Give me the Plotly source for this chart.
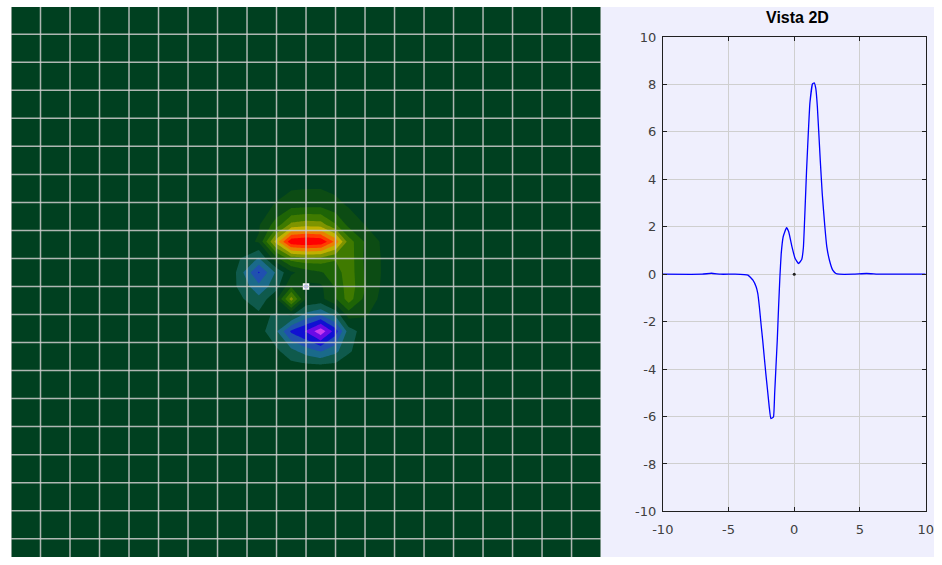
import plotly.graph_objects as go

# ---------------- field shown in the map (left panel) ----------------
grid_x = [-10, -3.0, -2.4, -1.6, -1.0, -0.5, 0.0, 0.5, 1.0, 1.45, 2.0, 2.6, 10]
grid_y = [-10, -2.9, -2.3, -1.6, -1.0, -0.45, 0.0, 0.5, 1.0, 1.6, 2.2, 2.9, 3.6, 10]
field = [
    [0, 0, 0, 0, 0, 0, 0, 0, 0, 0, 0, 0, 0],
    [0, 0, 0, 0, 0, 0, 0, 0, 0, 0, 0, 0, 0],
    [0, 0, 0, 0, -0.3, -1.2, -2.0, -2.6, -1.8, -0.6, -0.1, 0, 0],
    [0, 0, 0, 0, -1.4, -3.7, -4.6, -6.2, -4.0, -1.0, 0, 0, 0],
    [0, 0, 0, -0.3, -0.6, -0.3, -1.8, -2.4, -1.2, 1.0, 0.6, 0.1, 0],
    [0, 0, -0.1, -1.2, 0.35, 4.0, 0.4, 0.2, 1.4, 3.0, 1.2, 0.2, 0],
    [0, 0, -0.4, -2.2, -0.9, 1.4, 0.3, 0.3, 1.6, 3.1, 1.6, 0.3, 0],
    [0, 0, -0.4, -3.6, -1.3, 0.3, 1.0, 1.4, 2.0, 3.1, 1.4, 0.4, 0],
    [0, 0, -0.2, -1.6, 1.2, 3.0, 3.3, 3.2, 2.6, 3.1, 1.3, 0.4, 0],
    [0, 0, 0, 0.6, 5.0, 8.3, 8.6, 8.4, 6.2, 3.0, 1.4, 0.3, 0],
    [0, 0, 0, 0.4, 2.0, 3.8, 4.1, 4.0, 2.6, 1.2, 0.5, 0, 0],
    [0, 0, 0, 0.1, 0.6, 1.1, 1.2, 1.2, 0.8, 0.4, 0.1, 0, 0],
    [0, 0, 0, 0, 0.1, 0.3, 0.35, 0.35, 0.2, 0.1, 0, 0, 0],
    [0, 0, 0, 0, 0, 0, 0, 0, 0, 0, 0, 0, 0],
]

# ---------------- profile (right panel, "Vista 2D") ----------------
profile_x = [-10, -7.0, -6.3, -5.6, -4.5, -3.52, -3.14, -2.90, -2.77, -2.65, -2.53,
             -2.40, -2.28, -2.16, -2.03, -1.90, -1.78, -1.58, -1.49, -1.39, -1.29,
             -1.19, -1.09, -0.99, -0.84, -0.59, -0.42, -0.17, 0.07, 0.33, 0.57,
             0.70, 0.82, 0.94, 1.07, 1.19, 1.39, 1.52, 1.64, 1.76, 1.98, 2.13,
             2.33, 2.48, 2.68, 2.93, 3.17, 3.42, 4.5, 5.5, 6.5, 10]
profile_y = [0, 0, 0.04, 0, 0, -0.04, -0.25, -0.53, -0.82, -1.38, -2.08,
             -2.78, -3.49, -4.19, -4.89, -5.60, -6.09, -6.02, -5.04, -3.91, -2.78,
             -1.38, -0.11, 0.87, 1.58, 1.96, 1.79, 1.15, 0.66, 0.45, 0.62,
             1.15, 2.70, 4.39, 5.94, 7.20, 8.02, 8.07, 7.83, 7.06, 4.81, 3.40,
             2.00, 1.15, 0.59, 0.17, 0.03, 0, 0, 0.03, 0, 0]

x_ticks = [-10, -5, 0, 5, 10]
y_ticks = [-10, -8, -6, -4, -2, 0, 2, 4, 6, 8, 10]

# contour levels and one colour per band (lowest band first)
level_start, level_end, level_step = -5.5, 7.5, 1
band_colors = [
    "#c83cf0", "#6a0ae6", "#1010d2", "#2050b0", "#1a6a8a", "#0f5a4c",
    "#004020",
    "#0c4c14", "#1e6406", "#3f7a00", "#7e9400", "#c0b000", "#e88000",
    "#ff3c00", "#ff0000",
]
n = len(band_colors) - 1
colorscale = []
for k, c in enumerate(band_colors):
    lo = max(0.0, (k - 0.5) / n)
    hi = min(1.0, (k + 0.5) / n)
    colorscale.append([lo, c])
    colorscale.append([hi, c])

W, H = 942, 565
MAP_RIGHT = 602.2       # px, right edge of the map
MAP_TOP = -0.8          # px, map frame sits just above the figure
UNIT_H = 28.79          # px per map unit, vertical
map_top = 10 + MAP_TOP / UNIT_H
map_bottom = map_top - H / UNIT_H

PROF_L, PROF_R = 665.2, 933.5   # px, profile axes box
PROF_T, PROF_B = 30.8, 518.2

fig = go.Figure()

fig.add_trace(go.Contour(
    x=grid_x, y=grid_y, z=field,
    autocontour=False,
    contours=dict(start=level_start, end=level_end, size=level_step, coloring="fill"),
    colorscale=colorscale, showscale=False,
    line=dict(width=0, smoothing=0),
    hoverinfo="skip",
    xaxis="x", yaxis="y",
))

# centre marker of the map
fig.add_trace(go.Scatter(
    x=[0], y=[0], mode="markers",
    marker=dict(symbol="square", size=5, color="#9aa6ff", line=dict(color="white", width=1.5)),
    xaxis="x", yaxis="y", hoverinfo="skip", showlegend=False,
))

fig.add_trace(go.Scatter(
    x=profile_x, y=profile_y, mode="lines",
    line=dict(color="#0000ff", width=1.3, shape="spline", smoothing=0.3),
    xaxis="x2", yaxis="y2", hoverinfo="skip", showlegend=False,
))
fig.add_trace(go.Scatter(
    x=[0], y=[0], mode="markers",
    marker=dict(size=3, color="#202020"),
    xaxis="x2", yaxis="y2", hoverinfo="skip", showlegend=False,
))

shapes = []
# lavender panel behind the profile view
shapes.append(dict(type="rect", xref="paper", yref="paper", x0=MAP_RIGHT / W, x1=1, y0=0, y1=1,
                   fillcolor="#efeffd", line=dict(width=0), layer="below"))

# map grid drawn on top of the filled contours
for v in range(-10, 11):
    shapes.append(dict(type="line", xref="x", yref="y", x0=v, x1=v, y0=-10, y1=10,
                       line=dict(color="rgba(205,205,205,0.85)", width=1.5), layer="above"))
    shapes.append(dict(type="line", xref="x", yref="y", x0=-10, x1=10, y0=v, y1=v,
                       line=dict(color="rgba(205,205,205,0.85)", width=1.5), layer="above"))

tick_font = dict(family="DejaVu Sans, Verdana, sans-serif", size=13, color="#404040")

fig.update_layout(
    width=W, height=H,
    margin=dict(l=0, r=0, t=0, b=0),
    paper_bgcolor="white",
    plot_bgcolor="white",
    showlegend=False,
    shapes=shapes,
    xaxis=dict(domain=[0, MAP_RIGHT / W], range=[-10, 10], showgrid=False, zeroline=False,
               showticklabels=False, ticks="", showline=False, fixedrange=True),
    yaxis=dict(domain=[0, 1], range=[map_bottom, map_top], showgrid=False, zeroline=False,
               showticklabels=False, ticks="", showline=False, fixedrange=True),
    xaxis2=dict(domain=[PROF_L / W, PROF_R / W], range=[-10, 10], anchor="y2",
                tickvals=x_ticks, ticktext=[str(t) for t in x_ticks],
                showgrid=True, gridcolor="#cfcfcf", gridwidth=1, zeroline=False,
                showline=True, linecolor="#202020", linewidth=1, mirror="ticks",
                ticks="inside", ticklen=4, tickcolor="#202020", tickfont=tick_font,
                ticklabelstandoff=6),
    yaxis2=dict(domain=[(H - PROF_B) / H, (H - PROF_T) / H], range=[-10, 10], anchor="x2",
                tickvals=y_ticks, ticktext=[str(t) for t in y_ticks],
                showgrid=True, gridcolor="#cfcfcf", gridwidth=1, zeroline=False,
                showline=True, linecolor="#202020", linewidth=1, mirror="ticks",
                ticks="inside", ticklen=4, tickcolor="#202020", tickfont=tick_font,
                ticklabelstandoff=3),
    annotations=[dict(text="<b>Vista 2D</b>", x=802.5 / W, y=(H - 10.5) / H, xref="paper", yref="paper",
                      showarrow=False, xanchor="center", yanchor="middle",
                      font=dict(family="Liberation Sans, Arial, sans-serif", size=16, color="black"))],
)

fig.write_html("out.html")
